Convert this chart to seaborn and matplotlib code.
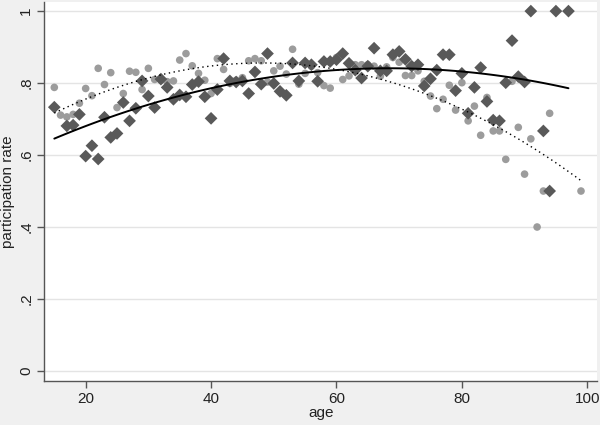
import numpy as np
import pandas as pd
import matplotlib
matplotlib.use("Agg")
import matplotlib.pyplot as plt
import seaborn as sns

# dark diamonds (solid quadratic fit)
age_d = [15, 17, 18, 19, 20, 21, 22, 23, 24, 25, 26, 27, 28, 29, 30, 31, 32, 33, 34,
         35, 36, 37, 38, 39, 40, 41, 42, 43, 44, 45, 46, 47, 48, 49, 50, 51, 52, 53,
         54, 55, 56, 57, 58, 59, 60, 61, 62, 63, 64, 65, 66, 67, 68, 69, 70, 71, 72,
         73, 74, 75, 76, 77, 78, 79, 80, 81, 82, 83, 84, 85, 86, 87, 88, 89, 90, 91,
         93, 94, 95, 97]
rate_d = [0.733, 0.681, 0.683, 0.713, 0.597, 0.626, 0.589, 0.705, 0.649, 0.660, 0.746,
          0.695, 0.730, 0.806, 0.764, 0.732, 0.811, 0.788, 0.755, 0.767, 0.762, 0.796,
          0.804, 0.762, 0.702, 0.782, 0.868, 0.806, 0.803, 0.806, 0.771, 0.831, 0.797,
          0.882, 0.799, 0.777, 0.766, 0.856, 0.806, 0.856, 0.851, 0.805, 0.860, 0.860,
          0.865, 0.882, 0.855, 0.836, 0.814, 0.847, 0.897, 0.834, 0.834, 0.879, 0.888,
          0.866, 0.847, 0.851, 0.792, 0.812, 0.836, 0.879, 0.879, 0.779, 0.827, 0.716,
          0.788, 0.843, 0.749, 0.697, 0.695, 0.801, 0.918, 0.818, 0.803, 1.0, 0.667,
          0.5, 1.0, 1.0]

# light circles (dotted quadratic fit)
age_c = list(range(15, 95)) + [99]
rate_c = [0.788, 0.711, 0.706, 0.713, 0.744, 0.785, 0.765, 0.841, 0.796, 0.829, 0.732,
          0.771, 0.833, 0.830, 0.782, 0.841, 0.810, 0.808, 0.804, 0.806, 0.864, 0.882,
          0.848, 0.827, 0.808, 0.771, 0.868, 0.838, 0.799, 0.808, 0.815, 0.862, 0.868,
          0.862, 0.803, 0.834, 0.847, 0.825, 0.894, 0.797, 0.827, 0.847, 0.829, 0.793,
          0.786, 0.871, 0.810, 0.820, 0.851, 0.851, 0.851, 0.847, 0.819, 0.845, 0.871,
          0.858, 0.821, 0.821, 0.834, 0.805, 0.764, 0.729, 0.755, 0.794, 0.725, 0.801,
          0.695, 0.736, 0.655, 0.760, 0.667, 0.667, 0.588, 0.805, 0.677, 0.547, 0.645,
          0.400, 0.500, 0.716, 0.500]

y_ticks = [0, 0.2, 0.4, 0.6, 0.8, 1]
y_labels = ["0", ".2", ".4", ".6", ".8", "1"]
x_ticks = [20, 40, 60, 80, 100]

dfd = pd.DataFrame({"age": age_d, "rate": rate_d})
dfc = pd.DataFrame({"age": age_c, "rate": rate_c})

sns.set_style("white")
plt.rcParams["font.family"] = ["Liberation Sans", "DejaVu Sans"]

fig = plt.figure(figsize=(6, 4.25), dpi=100, facecolor="#f0f0f0")
ax = fig.add_axes([0.0738, 0.1035, 0.9217, 0.8915])
ax.set_facecolor("white")

sns.scatterplot(x="age", y="rate", data=dfc, ax=ax, marker="o", s=30,
                color="#9c9c9c", edgecolor="none", zorder=3)
sns.scatterplot(x="age", y="rate", data=dfd, ax=ax, marker="D", s=42,
                color="#595959", edgecolor="none", zorder=4)
sns.regplot(x="age", y="rate", data=dfd, ax=ax, order=2, ci=None, scatter=False,
            line_kws={"color": "black", "lw": 1.4, "zorder": 5})
sns.regplot(x="age", y="rate", data=dfc, ax=ax, order=2, ci=None, scatter=False,
            line_kws={"color": "black", "lw": 1.0, "ls": (0, (1, 2.5)), "zorder": 5})

ax.set_xlim(13.4, 101.6)
ax.set_ylim(-0.028, 1.025)
ax.set_yticks(y_ticks)
ax.set_yticklabels(y_labels, rotation=90, va="center")
ax.set_xticks(x_ticks)
for y in y_ticks:
    ax.axhline(y, color="#e4e4e4", lw=1, zorder=0)

for s in ["top", "right"]:
    ax.spines[s].set_visible(False)
for s in ["left", "bottom"]:
    ax.spines[s].set_color("#555555")
    ax.spines[s].set_linewidth(1)
ax.tick_params(axis="both", direction="out", length=5, width=1, color="#555555",
               labelsize=11, labelcolor="#222222", pad=3)
ax.tick_params(axis="both", left=True, bottom=True)

ax.set_xlabel("age", fontsize=11, color="#222222", labelpad=0)
ax.set_ylabel("participation rate", fontsize=11, color="#222222", labelpad=3)

fig.savefig("out.png", dpi=100, facecolor=fig.get_facecolor())
